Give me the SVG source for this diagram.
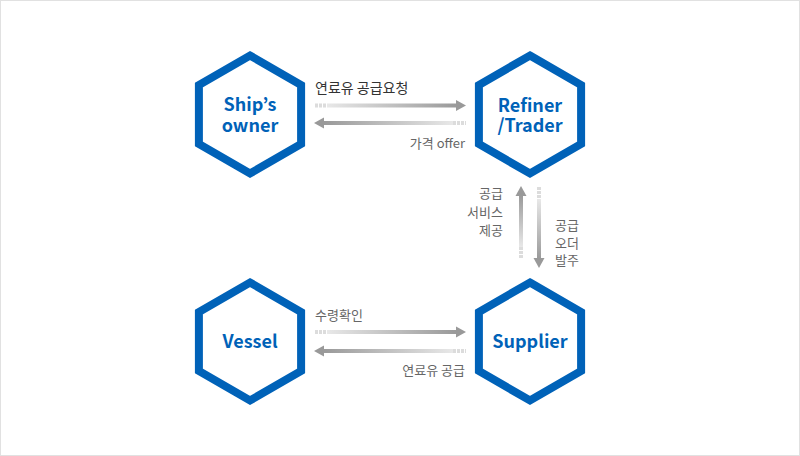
<svg xmlns="http://www.w3.org/2000/svg" width="800" height="456" viewBox="0 0 800 456">
<style>
.hex{fill:#fff;stroke:#0062b8;stroke-width:8;stroke-linejoin:miter}
.nt{font-family:"Noto Sans CJK KR","Noto Sans",sans-serif;font-weight:bold;font-size:18px;fill:#0062b8;text-anchor:middle}
.lb{font-family:"Noto Sans CJK KR","Noto Sans",sans-serif;font-size:13px;fill:#666}
.lbd{font-family:"Noto Sans CJK KR","Noto Sans",sans-serif;font-size:14px;fill:#333}
.dots{stroke:#dcdcdc;stroke-width:4;stroke-dasharray:3 1}
.head{fill:#999}
</style>
<defs>
<linearGradient id="gR" x1="0" y1="0" x2="1" y2="0"><stop offset="0" stop-color="#e8e8e8"/><stop offset="1" stop-color="#999"/></linearGradient>
<linearGradient id="gL" x1="0" y1="0" x2="1" y2="0"><stop offset="0" stop-color="#999"/><stop offset="1" stop-color="#e8e8e8"/></linearGradient>
<linearGradient id="gU" x1="0" y1="0" x2="0" y2="1"><stop offset="0" stop-color="#999"/><stop offset="1" stop-color="#e8e8e8"/></linearGradient>
<linearGradient id="gD" x1="0" y1="0" x2="0" y2="1"><stop offset="0" stop-color="#e8e8e8"/><stop offset="1" stop-color="#999"/></linearGradient>
<polygon id="hx" points="0,-59 51.1,-29.5 51.1,29.5 0,59 -51.1,29.5 -51.1,-29.5"/>
</defs>
<rect x="0.5" y="0.5" width="799" height="455" fill="#fff" stroke="#e1e1e1"/>

<g id="connectors">
  <g id="c-request">
    <line class="dots" x1="315" y1="105.5" x2="327" y2="105.5"/>
    <rect x="327" y="103.5" width="130" height="4" fill="url(#gR)"/>
    <polygon class="head" points="456,100 466,105.5 456,111"/>
    <text class="lbd" x="315" y="93">연료유 공급요청</text>
  </g>
  <g id="c-offer">
    <polygon class="head" points="324,117.5 314,123 324,128.5"/>
    <rect x="323" y="121" width="130" height="4" fill="url(#gL)"/>
    <line class="dots" x1="453" y1="123" x2="466" y2="123"/>
    <text class="lb" x="465" y="148" text-anchor="end">가격 offer</text>
  </g>
  <g id="c-service">
    <polygon class="head" points="515.5,196 521,186 526.5,196"/>
    <rect x="519" y="195" width="4" height="52" fill="url(#gU)"/>
    <line class="dots" x1="521" y1="247" x2="521" y2="259"/>
    <text class="lb" x="503" y="198" text-anchor="end">공급</text>
    <text class="lb" x="503" y="217" text-anchor="end">서비스</text>
    <text class="lb" x="503" y="235" text-anchor="end">제공</text>
  </g>
  <g id="c-order">
    <line class="dots" x1="539" y1="187" x2="539" y2="199"/>
    <rect x="537" y="199" width="4" height="60" fill="url(#gD)"/>
    <polygon class="head" points="533.5,258 539,268 544.5,258"/>
    <text class="lb" x="555" y="230">공급</text>
    <text class="lb" x="555" y="248">오더</text>
    <text class="lb" x="555" y="265">발주</text>
  </g>
  <g id="c-confirm">
    <line class="dots" x1="315" y1="332" x2="327" y2="332"/>
    <rect x="327" y="330" width="130" height="4" fill="url(#gR)"/>
    <polygon class="head" points="456,326.5 466,332 456,337.5"/>
    <text class="lb" x="315" y="320">수령확인</text>
  </g>
  <g id="c-supply">
    <polygon class="head" points="324,345.5 314,351 324,356.5"/>
    <rect x="323" y="349" width="130" height="4" fill="url(#gL)"/>
    <line class="dots" x1="453" y1="351" x2="466" y2="351"/>
    <text class="lb" x="465" y="375" text-anchor="end">연료유 공급</text>
  </g>
</g>

<g id="ships-owner" transform="translate(250,114.5)">
  <use href="#hx" class="hex"/>
  <text class="nt" x="0" y="-3.5">Ship’s</text>
  <text class="nt" x="0" y="17.5">owner</text>
</g>
<g id="refiner-trader" transform="translate(530,114.5)">
  <use href="#hx" class="hex"/>
  <text class="nt" x="0" y="-3">Refiner</text>
  <text class="nt" x="0" y="17.5">/Trader</text>
</g>
<g id="vessel" transform="translate(250,341.5)">
  <use href="#hx" class="hex"/>
  <text class="nt" x="0" y="6.5">Vessel</text>
</g>
<g id="supplier" transform="translate(530,341.5)">
  <use href="#hx" class="hex"/>
  <text class="nt" x="0" y="6">Supplier</text>
</g>
</svg>
